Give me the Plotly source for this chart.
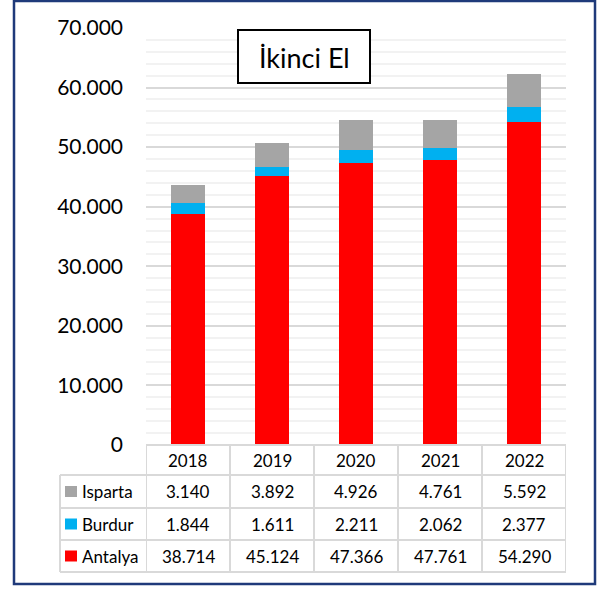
import plotly.graph_objects as go

years = ["2018", "2019", "2020", "2021", "2022"]
antalya = [38714, 45124, 47366, 47761, 54290]
burdur = [1844, 1611, 2211, 2062, 2377]
isparta = [3140, 3892, 4926, 4761, 5592]
series_names = ["Isparta", "Burdur", "Antalya"]
series_colors = {"Antalya": "#FF0000", "Burdur": "#00B0F0", "Isparta": "#A5A5A5"}
title_text = "İkinci El"

W, H = 601, 590
L, R, T, B = 146, 35, 28, 145
PW, PH = W - L - R, H - T - B

def px_x(p):
    return (p - L) / PW

def px_y(p):
    return (H - B - p) / PH

def fmt(v):
    return f"{v:,}".replace(",", ".")

FONT = "Lato"
TSIZE = 17
fig = go.Figure()
for name, vals in [("Antalya", antalya), ("Burdur", burdur), ("Isparta", isparta)]:
    fig.add_trace(go.Bar(x=years, y=vals, name=name,
                         marker=dict(color=series_colors[name], line=dict(width=0))))

shapes = []
annotations = []
grid = "#D9D9D9"

header_top, header_bot = 445, 475
row_bounds = [(475, 508), (508, 540), (540, 572)]
leg_left = 60
data_by_name = {"Antalya": antalya, "Burdur": burdur, "Isparta": isparta}

shapes.append(dict(type="line", xref="paper", yref="paper", x0=0, x1=1,
                   y0=px_y(header_top), y1=px_y(header_top), line=dict(color=grid, width=2)))
for yb in [475, 508, 540, 572]:
    shapes.append(dict(type="line", xref="paper", yref="paper", x0=px_x(leg_left), x1=1,
                       y0=px_y(yb), y1=px_y(yb), line=dict(color=grid, width=2)))
shapes.append(dict(type="line", xref="paper", yref="paper", x0=px_x(leg_left), x1=px_x(leg_left),
                   y0=px_y(475), y1=px_y(572), line=dict(color=grid, width=2)))
for i in range(len(years) + 1):
    shapes.append(dict(type="line", xref="x", yref="paper", x0=i - 0.5, x1=i - 0.5,
                       y0=px_y(header_top), y1=px_y(572), line=dict(color=grid, width=2)))

def txt(x, y, text, xref="x", xanchor="center", size=TSIZE):
    return dict(x=x, y=y, xref=xref, yref="paper", text=text, showarrow=False,
                xanchor=xanchor, yanchor="middle",
                font=dict(family=FONT, size=size, color="#000000"))

for i, yr in enumerate(years):
    annotations.append(txt(i, px_y((header_top + header_bot) / 2), yr))
for (y0, y1), name in zip(row_bounds, series_names):
    yc = px_y((y0 + y1) / 2)
    shapes.append(dict(type="rect", xref="paper", yref="paper",
                       x0=px_x(65), x1=px_x(77), y0=px_y((y0 + y1) / 2 - 5.5), y1=px_y((y0 + y1) / 2 + 5.5),
                       fillcolor=series_colors[name], line=dict(width=0)))
    annotations.append(txt(px_x(80), yc, name, xref="paper", xanchor="left"))
    for i, yr in enumerate(years):
        annotations.append(txt(i, yc, fmt(data_by_name[name][i])))

shapes.append(dict(type="rect", xref="paper", yref="paper", x0=px_x(238), x1=px_x(370),
                   y0=px_y(83), y1=px_y(30), fillcolor="white", line=dict(color="black", width=2),
                   layer="above"))
annotations.append(txt(px_x(304), px_y(57), title_text, xref="paper", size=27))

shapes.append(dict(type="rect", xref="paper", yref="paper", x0=px_x(14), x1=px_x(595),
                   y0=px_y(584), y1=px_y(1), line=dict(color="#1F3A7A", width=2.5)))

fig.update_layout(
    width=W, height=H, margin=dict(l=L, r=R, t=T, b=B, autoexpand=False),
    barmode="stack", bargap=0.6, showlegend=False,
    plot_bgcolor="white", paper_bgcolor="white", separators=",.",
    shapes=shapes, annotations=annotations,
    xaxis=dict(type="category", showticklabels=False, showgrid=False, zeroline=False, showline=False,
               range=[-0.5, 4.5], fixedrange=True),
    yaxis=dict(range=[0, 70000], dtick=10000, tickformat=",d", showgrid=True, gridcolor=grid,
               gridwidth=1.5, zeroline=False, showline=False,
               ticklabelstandoff=22,
               tickfont=dict(family=FONT, size=21, color="#000000"),
               minor=dict(dtick=2000, showgrid=True, gridcolor="#F2F2F2", gridwidth=1.5)),
)
fig.write_html("out.html", config={"displayModeBar": False},
               post_script="document.body.style.margin='0px';")
